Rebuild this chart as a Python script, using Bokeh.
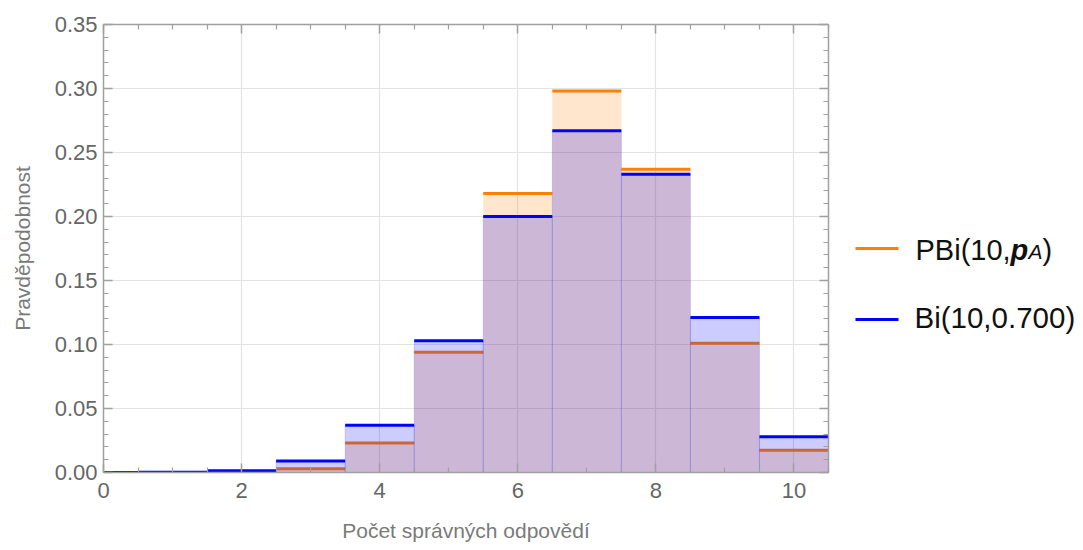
from bokeh.plotting import figure
from bokeh.layouts import row
from bokeh.models import (Range1d, LinearAxis, FixedTicker, PrintfTickFormatter,
                          CustomJSTickFormatter)
from bokeh.core.properties import value
from bokeh.embed import file_html
from bokeh.resources import INLINE

# ---- data ----
k_values = [0, 1, 2, 3, 4, 5, 6, 7, 8, 9, 10]
pbi_probs = [0.0, 0.0, 0.0003, 0.003, 0.023, 0.094, 0.218, 0.298, 0.237, 0.101, 0.0174]
bi_probs = [0.0, 0.0001, 0.0014, 0.009, 0.037, 0.103, 0.200, 0.267, 0.233, 0.121, 0.028]
x_ticks = [0, 2, 4, 6, 8, 10]
x_minor = [0.5, 1, 1.5, 2.5, 3, 3.5, 4.5, 5, 5.5, 6.5, 7, 7.5, 8.5, 9, 9.5, 10.5]
y_ticks = [0.0, 0.05, 0.10, 0.15, 0.20, 0.25, 0.30, 0.35]
y_minor = [round(i * 0.01, 2) for i in range(36)]
legend_labels = ["PBi(10,", "p", "A", ")", "Bi(10,0.700)"]
x_label = "Počet správných odpovědí"
y_label = "Pravděpodobnost"

ORANGE = "#FF8000"
BLUE = "#0000FF"
FONT = "Liberation Sans"

p = figure(width=833, height=550, x_range=Range1d(0, 10.5), y_range=Range1d(0, 0.35),
           output_backend="svg", toolbar_location=None, title=None,
           min_border_left=103, min_border_right=5, min_border_top=24, min_border_bottom=78,
           x_axis_label=x_label, y_axis_label=y_label)
p.background_fill_color = "white"
p.border_fill_color = "white"
p.outline_line_color = None

bottom_ax = p.xaxis[0]
left_ax = p.yaxis[0]
bottom_ax.ticker = FixedTicker(ticks=x_ticks, minor_ticks=x_minor)
left_ax.ticker = FixedTicker(ticks=y_ticks, minor_ticks=y_minor)
bottom_ax.formatter = PrintfTickFormatter(format="%d")
left_ax.formatter = PrintfTickFormatter(format="%.2f")

top_ax = LinearAxis(ticker=FixedTicker(ticks=x_ticks, minor_ticks=x_minor),
                    formatter=CustomJSTickFormatter(code="return ''"))
right_ax = LinearAxis(ticker=FixedTicker(ticks=y_ticks, minor_ticks=y_minor),
                      formatter=CustomJSTickFormatter(code="return ''"))
p.add_layout(top_ax, "above")
p.add_layout(right_ax, "right")

for ax in [bottom_ax, left_ax, top_ax, right_ax]:
    ax.axis_line_color = "#a0a0a0"
    ax.axis_line_width = 1.5
    ax.major_tick_line_color = "#a0a0a0"
    ax.minor_tick_line_color = "#a0a0a0"
    ax.major_tick_line_width = 1.5
    ax.minor_tick_line_width = 1.2
    ax.major_tick_in = 9
    ax.major_tick_out = 0
    ax.minor_tick_in = 5
    ax.minor_tick_out = 0
    ax.major_label_text_font = FONT
    ax.major_label_text_font_size = "22px"
    ax.major_label_text_color = "#666666"
    ax.axis_label_text_font = FONT
    ax.axis_label_text_font_size = "21px"
    ax.axis_label_text_font_style = "normal"
    ax.axis_label_text_color = "#7a7a7a"

for ax in [top_ax, right_ax]:
    ax.major_label_text_font_size = "1px"
    ax.major_label_standoff = 0

bottom_ax.major_label_standoff = 10
bottom_ax.axis_label_standoff = 18
left_ax.major_label_standoff = 6
left_ax.axis_label_standoff = 18

p.xgrid.ticker = FixedTicker(ticks=x_ticks)
p.ygrid.ticker = FixedTicker(ticks=y_ticks)
p.xgrid.grid_line_color = "#e3e3e3"
p.ygrid.grid_line_color = "#e3e3e3"
p.xgrid.grid_line_width = 1.2
p.ygrid.grid_line_width = 1.2

left_edges = [k - 0.5 for k in k_values]
right_edges = [k + 0.5 for k in k_values]

p.quad(left=left_edges, right=right_edges, bottom=0, top=pbi_probs,
       fill_color=ORANGE, fill_alpha=0.2, line_color=None)
p.segment(x0=left_edges, y0=pbi_probs, x1=right_edges, y1=pbi_probs,
          line_color=ORANGE, line_width=3)
p.quad(left=left_edges, right=right_edges, bottom=0, top=bi_probs,
       fill_color=BLUE, fill_alpha=0.2, line_color=BLUE, line_alpha=0.14, line_width=1)
p.segment(x0=left_edges, y0=bi_probs, x1=right_edges, y1=bi_probs,
          line_color=BLUE, line_width=3)

# ---- legend panel: its frame is aligned with the main frame (page y 24..472) ----
leg = figure(width=250, height=550, x_range=Range1d(833, 1083), y_range=Range1d(472, 24),
             output_backend="svg", toolbar_location=None, title=None,
             min_border=0, x_axis_location=None, y_axis_location=None)
leg.outline_line_color = None
leg.xgrid.visible = False
leg.ygrid.visible = False
leg.background_fill_color = "white"
leg.border_fill_color = "white"

leg.segment(x0=[855], y0=[248], x1=[898], y1=[248], line_color=ORANGE, line_width=3)
leg.segment(x0=[855], y0=[319], x1=[898], y1=[319], line_color=BLUE, line_width=3)

def lab(text, px, py, size, style="normal"):
    leg.text(x=[px], y=[py], text=[text], text_font=value(FONT), text_font_size=size,
             text_font_style=style, text_color="#111111", text_baseline="alphabetic",
             text_align="left")

lab(legend_labels[0], 915, 249, "29px")
lab(legend_labels[1], 1010, 249, "29px", "bold italic")
lab(legend_labels[2], 1028, 251, "21px", "italic")
lab(legend_labels[3], 1042, 249, "29px")
lab(legend_labels[4], 914, 317, "29.5px")

layout = row(p, leg)
open("out.html", "w").write(file_html(layout, INLINE))
